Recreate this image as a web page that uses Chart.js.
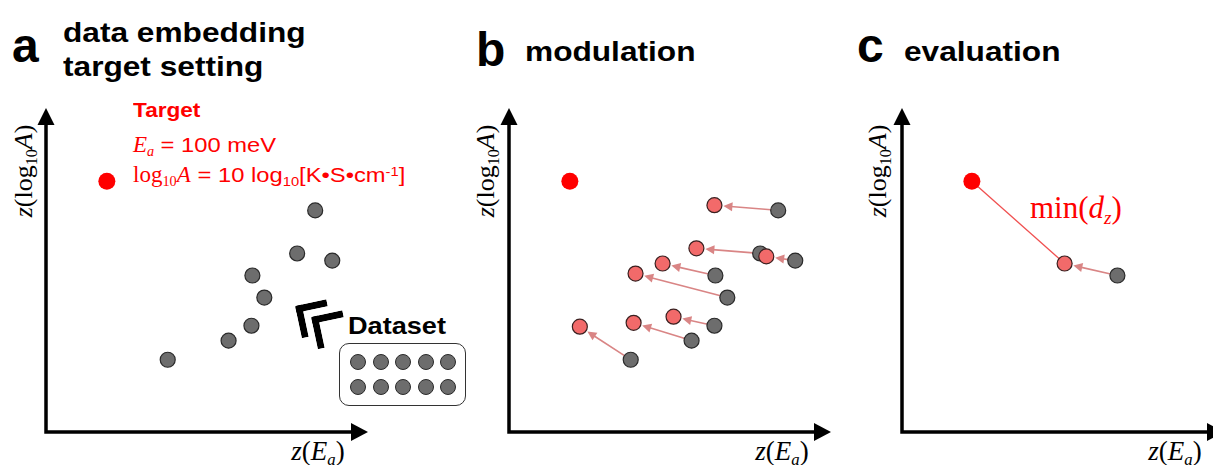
<!DOCTYPE html>
<html>
<head>
<meta charset="utf-8">
<script src="https://cdn.jsdelivr.net/npm/chart.js@4.4.1/dist/chart.umd.min.js"></script>
<style>
  html, body { margin: 0; padding: 0; background: #fff; }
  body { width: 1213px; height: 465px; position: relative; overflow: hidden; }
  .panel { position: absolute; top: 0; width: 420px; height: 465px; }
  .panel canvas { position: absolute; left: 0; top: 0; }
  .txt { position: absolute; white-space: nowrap; line-height: 1; }
  .sans { font-family: "Liberation Sans", Arial, sans-serif; }
  .serif { font-family: "Liberation Serif", "Times New Roman", serif; }
  .bold { font-weight: bold; }
  .wide { display: inline-block; transform: scaleX(1.13); transform-origin: left center; }
  .sub { font-size: 0.62em; position: relative; top: 0.3em; }
  .sup { font-size: 0.62em; position: relative; top: -0.45em; }
  .red { color: #ff0000; }
  .ylab { transform: translate(-50%, -50%) rotate(-90deg); }
  .xlab { transform: translateX(-50%); }
  .chev { position: absolute; width: 25px; height: 26px; border-top: 7px solid #000; border-left: 7px solid #000;
          transform: rotate(-12deg); transform-origin: 0 0; border-top-left-radius: 2px; }
  .dsbox { position: absolute; left: 339px; top: 343px; width: 125px; height: 61px; border: 1.5px solid #333;
           border-radius: 10px; box-sizing: content-box; }
  .dsgrid { display: grid; grid-template-columns: repeat(5, 16px); column-gap: 6.5px; row-gap: 9px;
            padding: 10px 0 0 10px; }
  .dsgrid span { width: 14px; height: 14px; border-radius: 50%; background: #6d6d6d; border: 1.2px solid #2a2a2a; }
</style>
</head>
<body>

<!-- titles -->
<div class="txt sans bold" style="left:12px; top:22px; font-size:48px;">a</div>
<div class="txt sans bold" style="left:63px; top:16px; font-size:28px; line-height:34px;">
  <span class="wide">data embedding<br>target setting</span>
</div>
<div class="txt sans bold" style="left:476px; top:26px; font-size:48px;">b</div>
<div class="txt sans bold" style="left:525px; top:38px; font-size:28px;"><span class="wide">modulation</span></div>
<div class="txt sans bold" style="left:857px; top:22px; font-size:48px;">c</div>
<div class="txt sans bold" style="left:904px; top:38px; font-size:28px;"><span class="wide">evaluation</span></div>

<!-- target description -->
<div class="txt sans bold red" style="left:133px; top:100px; font-size:20px;"><span class="wide">Target</span></div>
<div class="txt red" style="left:133px; top:133px; font-size:23px;">
  <span class="serif"><i>E</i><span class="sub"><i>a</i></span></span><span class="sans wide" style="font-size:21px;">&nbsp;= 100 meV</span>
</div>
<div class="txt red" style="left:133px; top:163px; font-size:23px;">
  <span class="serif">log<span class="sub">10</span><i>A</i></span><span class="sans wide" style="font-size:21px;">&nbsp;= 10 log<span class="sub">10</span>[K•S•cm<span class="sup">-1</span>]</span>
</div>

<!-- dataset legend -->
<div class="chev" style="left:295px; top:306px;"></div>
<div class="chev" style="left:311px; top:317px;"></div>
<div class="txt sans bold" style="left:348px; top:314px; font-size:24px;"><span class="wide">Dataset</span></div>
<div class="dsbox"><div class="dsgrid">
  <span></span><span></span><span></span><span></span><span></span>
  <span></span><span></span><span></span><span></span><span></span>
</div></div>

<!-- axis labels -->
<div class="txt serif ylab" style="left:24px; top:171px; font-size:26px;"><i>z</i>(log<span class="sub">10</span><i>A</i>)</div>
<div class="txt serif ylab" style="left:486px; top:171px; font-size:26px;"><i>z</i>(log<span class="sub">10</span><i>A</i>)</div>
<div class="txt serif ylab" style="left:878px; top:171px; font-size:26px;"><i>z</i>(log<span class="sub">10</span><i>A</i>)</div>
<div class="txt serif xlab" style="left:318px; top:438px; font-size:27px;"><i>z</i>(<i>E</i><span class="sub"><i>a</i></span>)</div>
<div class="txt serif xlab" style="left:782px; top:438px; font-size:27px;"><i>z</i>(<i>E</i><span class="sub"><i>a</i></span>)</div>
<div class="txt serif xlab" style="left:1175px; top:438px; font-size:27px;"><i>z</i>(<i>E</i><span class="sub"><i>a</i></span>)</div>

<div class="txt serif red" style="left:1030px; top:192px; font-size:31px;">min(<i>d</i><span class="sub"><i>z</i></span>)</div>

<div class="panel" style="left:0px;"><canvas id="chartA" width="420" height="465"></canvas></div>
<div class="panel" style="left:463px;"><canvas id="chartB" width="420" height="465"></canvas></div>
<div class="panel" style="left:856px;"><canvas id="chartC" width="420" height="465"></canvas></div>

<script>
// standardized coordinates, z(Ea) and z(log10 A)
const targetEa = [1.89];
const targetLogA = [7.74];

const datasetEa = [8.36, 7.80, 8.89, 6.41, 6.78, 6.38, 5.67, 3.78];
const datasetLogA = [6.84, 5.51, 5.29, 4.83, 4.15, 3.28, 2.82, 2.23];

const modulatedEa = [6.38, 5.82, 7.99, 4.77, 3.93, 5.11, 3.87, 2.20];
const modulatedLogA = [7.00, 5.67, 5.42, 5.20, 4.89, 3.56, 3.37, 3.25];

// candidate shown in the evaluation panel
const selectedIndex = 3;

const GRAY_FILL = '#6d6d6d';
const GRAY_EDGE = '#2a2a2a';
const MOD_FILL = '#f26a6a';
const MOD_EDGE = '#3a2020';
const TARGET_RED = '#ff0000';
const SHIFT_COLOR = '#d98585';

function toPoints(xs, ys) {
    return xs.map((x, i) => ({ x: x, y: ys[i] }));
}

// lower "order" is drawn on top: target > modulated > original
function grayDataset(points) {
    return {
        data: points, order: 3, pointRadius: 7.5, pointBorderWidth: 1.2,
        pointBackgroundColor: GRAY_FILL, pointBorderColor: GRAY_EDGE, clip: false
    };
}

function modulatedDataset(points) {
    return {
        data: points, order: 2, pointRadius: 7.5, pointBorderWidth: 1.2,
        pointBackgroundColor: MOD_FILL, pointBorderColor: MOD_EDGE, clip: false
    };
}

function targetDataset() {
    return {
        data: toPoints(targetEa, targetLogA), order: 1, pointRadius: 8.5, pointBorderWidth: 0,
        pointBackgroundColor: TARGET_RED, pointBorderColor: TARGET_RED, clip: false
    };
}

// Black axes with arrow heads along the chart area's left and bottom edges
const arrowAxes = {
    id: 'arrowAxes',
    beforeDatasetsDraw(chart) {
        const { ctx, chartArea: a } = chart;
        const head = 17;
        ctx.save();
        ctx.strokeStyle = '#000';
        ctx.fillStyle = '#000';
        ctx.lineWidth = 3.5;
        ctx.lineJoin = 'miter';
        ctx.beginPath();
        ctx.moveTo(a.left, a.top + head - 1);
        ctx.lineTo(a.left, a.bottom);
        ctx.lineTo(a.right - head + 1, a.bottom);
        ctx.stroke();
        ctx.beginPath();
        ctx.moveTo(a.right, a.bottom);
        ctx.lineTo(a.right - head, a.bottom - 9);
        ctx.lineTo(a.right - head, a.bottom + 9);
        ctx.closePath();
        ctx.fill();
        ctx.beginPath();
        ctx.moveTo(a.left, a.top);
        ctx.lineTo(a.left - 8.5, a.top + head);
        ctx.lineTo(a.left + 8.5, a.top + head);
        ctx.closePath();
        ctx.fill();
        ctx.restore();
    }
};

// Arrows from each original point to its modulated position,
// and an optional straight line from the target to the chosen candidate
const shiftArrows = {
    id: 'shiftArrows',
    beforeDatasetsDraw(chart, args, opts) {
        const { ctx } = chart;
        const xs = chart.scales.x, ys = chart.scales.y;
        ctx.save();
        if (opts.link) {
            const [p, q] = opts.link;
            ctx.strokeStyle = '#f05050';
            ctx.lineWidth = 1.3;
            ctx.beginPath();
            ctx.moveTo(xs.getPixelForValue(p.x), ys.getPixelForValue(p.y));
            ctx.lineTo(xs.getPixelForValue(q.x), ys.getPixelForValue(q.y));
            ctx.stroke();
        }
        (opts.pairs || []).forEach(([from, to]) => {
            const x0 = xs.getPixelForValue(from.x), y0 = ys.getPixelForValue(from.y);
            const x1 = xs.getPixelForValue(to.x), y1 = ys.getPixelForValue(to.y);
            const len = Math.hypot(x1 - x0, y1 - y0);
            const ux = (x1 - x0) / len, uy = (y1 - y0) / len;
            const sx = x0 + ux * 7, sy = y0 + uy * 7;
            const tx = x1 - ux * 9, ty = y1 - uy * 9;
            const hl = 9, hw = 4.5;
            ctx.strokeStyle = SHIFT_COLOR;
            ctx.fillStyle = SHIFT_COLOR;
            ctx.lineWidth = 1.6;
            ctx.beginPath();
            ctx.moveTo(sx, sy);
            ctx.lineTo(tx - ux * hl * 0.8, ty - uy * hl * 0.8);
            ctx.stroke();
            ctx.beginPath();
            ctx.moveTo(tx, ty);
            ctx.lineTo(tx - ux * hl - uy * hw, ty - uy * hl + ux * hw);
            ctx.lineTo(tx - ux * hl + uy * hw, ty - uy * hl - ux * hw);
            ctx.closePath();
            ctx.fill();
        });
        ctx.restore();
    }
};

function makeChart(id, datasets, xMin, extra) {
    return new Chart(document.getElementById(id), {
        type: 'scatter',
        data: { datasets: datasets },
        options: {
            responsive: false,
            animation: false,
            events: [],
            layout: { padding: { left: 46, top: 108, right: 52, bottom: 33 } },
            scales: {
                x: { type: 'linear', min: xMin, max: xMin + 10, display: false },
                y: { type: 'linear', min: 0, max: 10, display: false }
            },
            plugins: {
                legend: { display: false },
                tooltip: { enabled: false },
                shiftArrows: extra || {}
            }
        },
        plugins: [arrowAxes, shiftArrows]
    });
}

const originalPts = toPoints(datasetEa, datasetLogA);
const modulatedPts = toPoints(modulatedEa, modulatedLogA);
const targetPt = toPoints(targetEa, targetLogA)[0];

// a: embedded dataset and the target
makeChart('chartA', [grayDataset(originalPts), targetDataset()], 0);

// b: every point moved toward the target
makeChart('chartB',
    [grayDataset(originalPts), modulatedDataset(modulatedPts), targetDataset()],
    0,
    { pairs: originalPts.map((p, i) => [p, modulatedPts[i]]) });

// c: distance from the target to the selected candidate
const pickedFrom = originalPts[selectedIndex];
const pickedTo = modulatedPts[selectedIndex];
makeChart('chartC',
    [grayDataset([pickedFrom]), modulatedDataset([pickedTo]), targetDataset()],
    -0.28,
    { pairs: [[pickedFrom, pickedTo]], link: [targetPt, pickedTo] });
</script>
</body>
</html>
